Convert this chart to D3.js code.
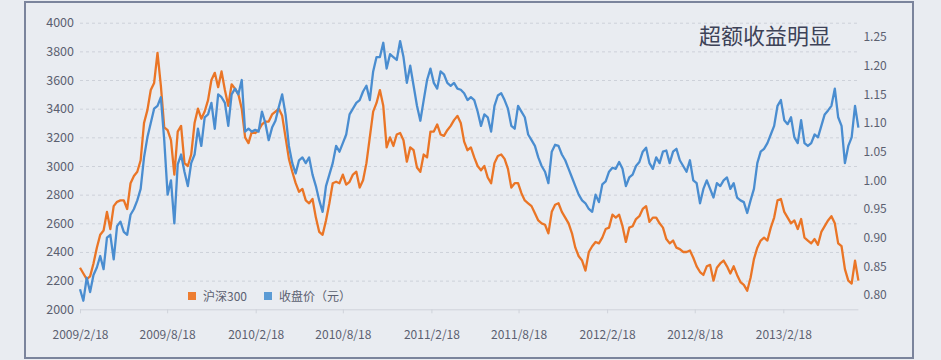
<!DOCTYPE html>
<html><head><meta charset="utf-8">
<script src="https://cdn.jsdelivr.net/npm/d3@7/dist/d3.min.js"></script>
<style>
html,body{margin:0;padding:0;background:#e9ecf1;}
svg{display:block;}
text{font-family:"Noto Sans CJK SC","Noto Sans",sans-serif;}
</style></head>
<body><svg id="chart" width="941" height="360"></svg>
<script>
const title = "超额收益明显";
const seriesNames = ["沪深300", "收盘价（元）"];
const xTickLabels = ["2009/2/18","2009/8/18","2010/2/18","2010/8/18","2011/2/18","2011/8/18","2012/2/18","2012/8/18","2013/2/18"];
const leftTicks = [2000,2200,2400,2600,2800,3000,3200,3400,3600,3800,4000];
const rightTicks = [0.80,0.85,0.90,0.95,1.00,1.05,1.10,1.15,1.20,1.25];
const dates = [
"2009-02-18","2009-02-25","2009-03-04","2009-03-11","2009-03-18","2009-03-25","2009-04-01","2009-04-08","2009-04-15","2009-04-22","2009-04-29","2009-05-06","2009-05-13","2009-05-20","2009-05-27","2009-06-03","2009-06-10","2009-06-17","2009-06-24","2009-07-01","2009-07-08","2009-07-15","2009-07-22","2009-07-29","2009-08-05","2009-08-12","2009-08-19","2009-08-26","2009-09-02","2009-09-09","2009-09-16","2009-09-23","2009-09-30","2009-10-07","2009-10-14","2009-10-21","2009-10-28","2009-11-04","2009-11-11","2009-11-18","2009-11-25","2009-12-02","2009-12-09","2009-12-16","2009-12-23","2009-12-30",
"2010-01-06","2010-01-13","2010-01-20","2010-01-27","2010-02-03","2010-02-10","2010-02-17","2010-02-24","2010-03-03","2010-03-10","2010-03-17","2010-03-24","2010-03-31","2010-04-07","2010-04-14","2010-04-21","2010-04-28","2010-05-05","2010-05-12","2010-05-19","2010-05-26","2010-06-02","2010-06-09","2010-06-16","2010-06-23","2010-06-30","2010-07-07","2010-07-14","2010-07-21","2010-07-28","2010-08-04","2010-08-11","2010-08-18","2010-08-25","2010-09-01","2010-09-08","2010-09-15","2010-09-22","2010-09-29","2010-10-06","2010-10-13","2010-10-20","2010-10-27","2010-11-03","2010-11-10","2010-11-17","2010-11-24","2010-12-01","2010-12-08","2010-12-15","2010-12-22","2010-12-29",
"2011-01-05","2011-01-12","2011-01-19","2011-01-26","2011-02-02","2011-02-09","2011-02-16","2011-02-23","2011-03-02","2011-03-09","2011-03-16","2011-03-23","2011-03-30","2011-04-06","2011-04-13","2011-04-20","2011-04-27","2011-05-04","2011-05-11","2011-05-18","2011-05-25","2011-06-01","2011-06-08","2011-06-15","2011-06-22","2011-06-29","2011-07-06","2011-07-13","2011-07-20","2011-07-27","2011-08-03","2011-08-10","2011-08-17","2011-08-24","2011-08-31","2011-09-07","2011-09-14","2011-09-21","2011-09-28","2011-10-05","2011-10-12","2011-10-19","2011-10-26","2011-11-02","2011-11-09","2011-11-16","2011-11-23","2011-11-30","2011-12-07","2011-12-14","2011-12-21","2011-12-28",
"2012-01-04","2012-01-11","2012-01-18","2012-01-25","2012-02-01","2012-02-08","2012-02-15","2012-02-22","2012-02-29","2012-03-07","2012-03-14","2012-03-21","2012-03-28","2012-04-04","2012-04-11","2012-04-18","2012-04-25","2012-05-02","2012-05-09","2012-05-16","2012-05-23","2012-05-30","2012-06-06","2012-06-13","2012-06-20","2012-06-27","2012-07-04","2012-07-11","2012-07-18","2012-07-25","2012-08-01","2012-08-08","2012-08-15","2012-08-22","2012-08-29","2012-09-05","2012-09-12","2012-09-19","2012-09-26","2012-10-03","2012-10-10","2012-10-17","2012-10-24","2012-10-31","2012-11-07","2012-11-14","2012-11-21","2012-11-28","2012-12-05","2012-12-12","2012-12-19","2012-12-26",
"2013-01-02","2013-01-09","2013-01-16","2013-01-23","2013-01-30","2013-02-06","2013-02-13","2013-02-20","2013-02-27","2013-03-06","2013-03-13","2013-03-20","2013-03-27","2013-04-03","2013-04-10","2013-04-17","2013-04-24","2013-05-01","2013-05-08","2013-05-15","2013-05-22","2013-05-29","2013-06-05","2013-06-12","2013-06-19","2013-06-26","2013-07-03","2013-07-10","2013-07-17","2013-07-24"
];
const hs300 = [
2290,2250,2210,2230,2320,2430,2520,2550,2680,2560,
2720,2750,2760,2760,2700,2880,2930,2960,3040,3300,
3390,3530,3580,3790,3560,3270,3250,3180,2940,3240,
3280,3020,3000,3080,3300,3400,3330,3380,3460,3600,
3650,3550,3660,3530,3420,3570,3540,3500,3400,3200,
3160,3240,3230,3250,3290,3310,3310,3360,3380,3400,
3350,3200,3050,2960,2880,2820,2840,2760,2740,2770,
2640,2540,2520,2620,2740,2880,2890,2880,2940,2870,
2890,2940,2960,2850,2900,3020,3200,3380,3440,3530,
3420,3130,3200,3140,3220,3230,3180,3030,3130,3110,
2990,2960,3080,3060,3240,3240,3290,3220,3210,3250,
3280,3320,3350,3300,3170,3110,3130,3060,3000,2970,
3000,2920,2880,3020,3070,3080,3050,2980,2850,2880,
2880,2810,2760,2740,2720,2670,2620,2600,2590,2530,
2680,2730,2740,2680,2640,2600,2530,2430,2370,2340,
2270,2400,2440,2470,2460,2500,2560,2570,2660,2640,
2660,2580,2470,2570,2580,2630,2650,2700,2720,2610,
2640,2640,2600,2570,2490,2460,2480,2430,2420,2400,
2400,2410,2360,2300,2260,2240,2300,2310,2200,2290,
2320,2340,2300,2250,2300,2240,2190,2170,2130,2220,
2350,2430,2480,2500,2480,2570,2640,2760,2770,2680,
2640,2600,2620,2560,2630,2500,2480,2460,2490,2450,
2540,2580,2620,2650,2600,2460,2440,2280,2200,2180,
2340,2200
];
const closePrice = [
0.810,0.790,0.830,0.805,0.835,0.848,0.868,0.845,0.900,0.905,
0.862,0.920,0.928,0.910,0.905,0.940,0.950,0.965,0.985,1.040,
1.075,1.100,1.125,1.130,1.145,1.070,0.975,1.000,0.925,1.028,
1.045,1.015,0.990,1.030,1.045,1.090,1.060,1.110,1.115,1.135,
1.090,1.150,1.145,1.135,1.095,1.150,1.160,1.150,1.175,1.085,
1.090,1.085,1.088,1.085,1.120,1.100,1.070,1.092,1.104,1.128,
1.150,1.115,1.060,1.030,1.012,1.035,1.040,1.030,1.040,1.010,
0.990,0.965,0.945,0.990,1.010,1.030,1.060,1.050,1.065,1.080,
1.115,1.125,1.135,1.140,1.155,1.165,1.140,1.190,1.215,1.215,
1.240,1.195,1.220,1.215,1.210,1.243,1.215,1.170,1.200,1.165,
1.130,1.104,1.140,1.175,1.195,1.170,1.160,1.190,1.185,1.170,
1.165,1.170,1.160,1.158,1.152,1.140,1.145,1.140,1.120,1.095,
1.115,1.110,1.085,1.130,1.148,1.152,1.140,1.125,1.095,1.090,
1.130,1.120,1.110,1.080,1.070,1.060,1.040,1.025,1.015,0.995,
1.050,1.062,1.060,1.045,1.035,1.020,1.005,0.990,0.975,0.965,
0.960,0.950,0.945,0.975,0.962,0.993,0.998,1.015,1.022,1.020,
1.032,1.020,0.990,1.005,1.010,1.025,1.032,1.050,1.057,1.030,
1.020,1.040,1.030,1.050,1.052,1.030,1.050,1.055,1.035,1.025,
1.015,1.035,1.000,0.995,0.960,0.985,1.000,0.985,0.970,0.995,
0.990,1.000,1.005,0.985,0.995,0.970,0.965,0.962,0.943,0.965,
0.985,1.030,1.050,1.055,1.065,1.080,1.095,1.130,1.140,1.105,
1.098,1.110,1.075,1.065,1.105,1.065,1.060,1.065,1.080,1.075,
1.095,1.115,1.122,1.130,1.160,1.110,1.095,1.030,1.060,1.075,
1.130,1.092
];
const colors = ["#ea7526", "#4a8dd0"];
const legendColors = ["#ed7d31", "#5b9bd5"];

const svg = d3.select("#chart");
const parseDate = d3.timeParse("%Y-%m-%d");
const parseTick = d3.timeParse("%Y/%m/%d");
const dd = dates.map(parseDate);
const tickDates = xTickLabels.map(parseTick);

const plotLeft = 80, plotRight = 858.4, plotTop = 22.7, plotBottom = 309.3;

// frame
svg.append("rect").attr("x",25).attr("y",2).attr("width",888).attr("height",356)
  .attr("fill","#e9ecf1").attr("stroke","#7b849c").attr("stroke-width",2);

const x = d3.scaleTime().domain([dd[0], dd[dd.length-1]]).range([plotLeft, plotRight]);
const yL = d3.scaleLinear().domain([2000,4000]).range([plotBottom, plotTop]);
const yR = d3.scaleLinear().domain([0.775,1.275]).range([plotBottom, plotTop]);

// gridlines
const grid = svg.append("g").attr("transform",`translate(${plotLeft},0)`)
  .call(d3.axisLeft(yL).tickValues(leftTicks.slice(1)).tickSize(-(plotRight-plotLeft+1)).tickFormat(""));
grid.select(".domain").remove();
grid.selectAll("line").attr("stroke","#cdd1d9").attr("stroke-dasharray","3,3").attr("stroke-width",1);

// left axis labels
const gl = svg.append("g").attr("transform",`translate(${plotLeft},0)`)
  .call(d3.axisLeft(yL).tickValues(leftTicks).tickFormat(d3.format("d")).tickSize(0).tickPadding(6));
gl.select(".domain").remove();
gl.selectAll("text").attr("fill","#5b6070").style("font-size","12.5px");

// right axis labels
const gr = svg.append("g").attr("transform",`translate(${plotRight},0)`)
  .call(d3.axisRight(yR).tickValues(rightTicks).tickFormat(d3.format(".2f")).tickSize(0).tickPadding(5));
gr.select(".domain").remove();
gr.selectAll("text").attr("fill","#5b6070").style("font-size","12px");

// bottom axis
const gb = svg.append("g").attr("transform",`translate(0,${plotBottom})`)
  .call(d3.axisBottom(x).tickValues(tickDates).tickSize(4).tickPadding(17)
    .tickFormat((d,i)=>xTickLabels[i]));
gb.select(".domain").attr("d", `M${plotLeft},0.5H${plotRight}`).attr("stroke","#cfd3da");
gb.selectAll(".tick line").attr("stroke","#cfd3da");
gb.selectAll("text").attr("fill","#5b6070").style("font-size","12px");

// lines
const lineL = d3.line().x((d,i)=>x(dd[i])).y(d=>yL(d));
const lineR = d3.line().x((d,i)=>x(dd[i])).y(d=>yR(d));
svg.append("path").datum(hs300).attr("d",lineL).attr("fill","none")
  .attr("stroke",colors[0]).attr("stroke-width",2.3).attr("stroke-linejoin","round");
svg.append("path").datum(closePrice).attr("d",lineR).attr("fill","none")
  .attr("stroke",colors[1]).attr("stroke-width",2.3).attr("stroke-linejoin","round");

// legend
const legX = [188, 264];
seriesNames.forEach((n,i)=>{
  svg.append("rect").attr("x",legX[i]).attr("y",292).attr("width",8).attr("height",8).attr("fill",legendColors[i]);
  svg.append("text").attr("x",legX[i]+15).attr("y",300.5).attr("fill","#5b6070")
    .style("font-size","12px").text(n);
});

// title
svg.append("text").attr("x",699).attr("y",43.5).attr("fill","#3d4257")
  .style("font-size","22px").text(title);
</script></body></html>
